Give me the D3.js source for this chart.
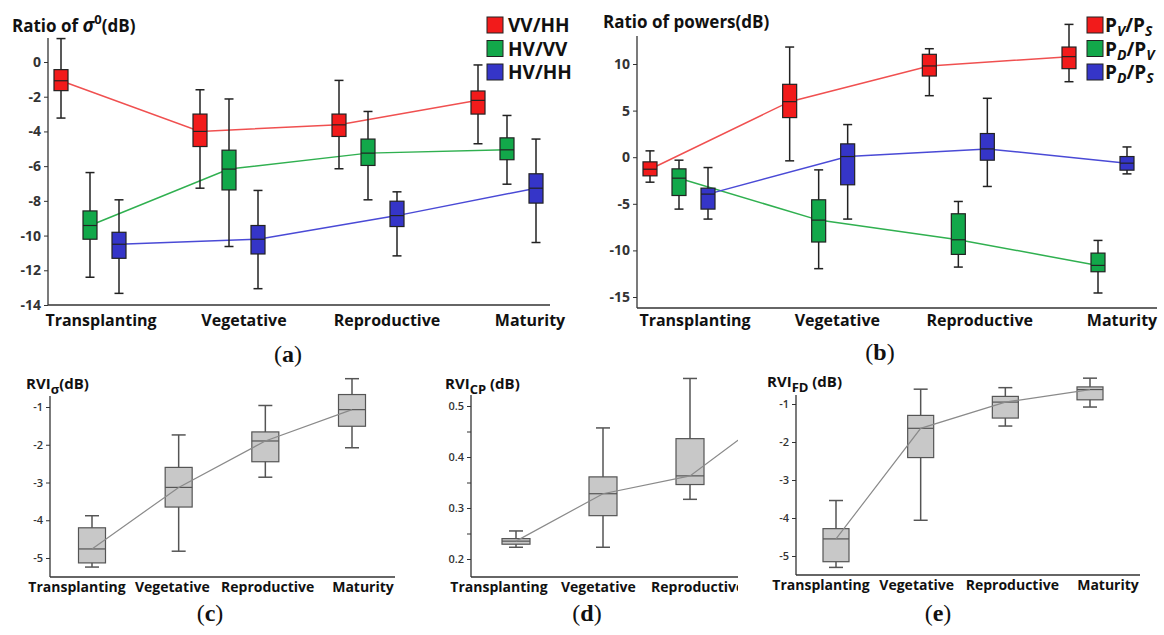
<!DOCTYPE html>
<html>
<head>
<meta charset="utf-8">
<script src="https://cdn.jsdelivr.net/npm/d3@7"></script>
<style>
  body { margin: 0; background: #fff; }
  svg { display: block; font-family: "Open Sans", sans-serif; }
</style>
</head>
<body>
<script>
// Drawing area
const w = 1164;
const h = 635;

// Growth stages on every x axis
const stages = ["Transplanting", "Vegetative", "Reproductive", "Maturity"];

// Each box: [low whisker, q1, median, q3, high whisker]
// (a) ratio of sigma0
const vvHH = [[-3.23, -1.65, -1.08, -0.44, 1.35], [-7.27, -4.87, -4.0, -3.0, -1.6], [-6.15, -4.29, -3.62, -3.0, -1.06], [-4.71, -3.0, -2.21, -1.67, -0.17]];
const hvVV = [[-12.4, -10.21, -9.42, -8.58, -6.37], [-10.63, -7.37, -6.17, -5.08, -2.13], [-7.94, -5.96, -5.25, -4.44, -2.85], [-7.04, -5.63, -5.06, -4.37, -3.08]];
const hvHH = [[-13.33, -11.31, -10.5, -9.81, -7.94], [-13.06, -11.06, -10.21, -9.42, -7.4], [-11.17, -9.48, -8.85, -8.02, -7.48], [-10.4, -8.13, -7.27, -6.44, -4.44]];
const legendA = ["VV/HH", "HV/VV", "HV/HH"];
const ticksA = [0, -2, -4, -6, -8, -10, -12, -14];

// (b) ratio of powers
const pvPs = [[-2.68, -2.0, -1.29, -0.5, 0.68], [-0.39, 4.25, 5.96, 7.82, 11.82], [6.6, 8.71, 9.79, 11.04, 11.64], [8.1, 9.5, 10.79, 11.82, 14.25]];
const pdPv = [[-5.57, -4.11, -2.25, -1.25, -0.32], [-11.96, -9.1, -6.75, -4.57, -1.36], [-11.79, -10.43, -8.86, -6.07, -4.75], [-14.57, -12.29, -11.61, -10.29, -8.93]];
const pdPs = [[-6.64, -5.57, -3.96, -3.32, -1.11], [-6.64, -2.96, 0.07, 1.43, 3.5], [-3.14, -0.32, 0.89, 2.54, 6.32], [-1.79, -1.39, -0.64, 0.07, 1.1]];
const legendB = [["P", "V", "P", "S"], ["P", "D", "P", "V"], ["P", "D", "P", "S"]];
const ticksB = [10, 5, 0, -5, -10, -15];

// (c), (d), (e) radar vegetation indices
const rviSigma = [[-5.24, -5.13, -4.76, -4.2, -3.88], [-4.82, -3.65, -3.13, -2.6, -1.74], [-2.86, -2.45, -1.9, -1.66, -0.96], [-2.08, -1.51, -1.07, -0.67, -0.25]];
const rviCP = [[0.223, 0.229, 0.235, 0.24, 0.255], [0.223, 0.285, 0.328, 0.361, 0.457], [0.317, 0.346, 0.363, 0.436, 0.554], [0.41, 0.45, 0.49, 0.53, 0.6]];
const rviFD = [[-5.3, -5.15, -4.55, -4.28, -3.54], [-4.06, -2.41, -1.64, -1.3, -0.61], [-1.58, -1.37, -0.95, -0.8, -0.57], [-1.08, -0.89, -0.62, -0.55, -0.32]];
const ticksRvi = [-1, -2, -3, -4, -5];
const ticksCP = [0.5, 0.45, 0.4, 0.35, 0.3, 0.25, 0.2];

// Colours
const red = "#f21b1b", green = "#12a84a", blue = "#3535c8";
const redLine = "#f05050", greenLine = "#30b050", blueLine = "#4a4ad6";

const svg = d3.select("body").append("svg").attr("width", w).attr("height", h);

// Draws a left axis plus the two axis lines
function drawFrame(g, y, ticks, opt) {
  const axis = d3.axisLeft(y).tickValues(ticks).tickSize(opt.tickSize)
    .tickFormat(opt.format || (d => d));
  const ag = g.append("g").attr("transform", "translate(" + opt.x0 + ",0)").call(axis);
  ag.select(".domain").remove();
  ag.selectAll("line").attr("stroke", "#333");
  ag.selectAll("text")
    .attr("fill", "#333")
    .style("font-size", opt.fontSize + "px")
    .style("font-weight", opt.weight)
    .style("font-family", "'Open Sans', sans-serif");
  g.append("line").attr("x1", opt.x0).attr("x2", opt.x0)
    .attr("y1", opt.yTop).attr("y2", opt.yBottom).attr("stroke", "#333").attr("stroke-width", 1.3);
  g.append("line").attr("x1", opt.x0).attr("x2", opt.x1)
    .attr("y1", opt.yBottom).attr("y2", opt.yBottom).attr("stroke", "#333").attr("stroke-width", 1.3);
}

// Draws a line through the medians
function drawMedianLine(g, data, x, y, offset, color, width) {
  const line = d3.line().x((d, i) => x(stages[i]) + offset).y(d => y(d[2]));
  g.append("path").datum(data).attr("d", line)
    .attr("fill", "none").attr("stroke", color).attr("stroke-width", width);
}

// Draws box plots
function drawBoxes(g, data, x, y, offset, bw, cw, fill, stroke) {
  const b = g.append("g").selectAll("g").data(data).enter().append("g");
  const cx = (d, i) => x(stages[i]) + offset;
  b.append("line").attr("x1", cx).attr("x2", cx)
    .attr("y1", d => y(d[0])).attr("y2", d => y(d[4]))
    .attr("stroke", stroke).attr("stroke-width", 1.5);
  [0, 4].forEach(k => {
    b.append("line").attr("x1", (d, i) => cx(d, i) - cw / 2).attr("x2", (d, i) => cx(d, i) + cw / 2)
      .attr("y1", d => y(d[k])).attr("y2", d => y(d[k]))
      .attr("stroke", stroke).attr("stroke-width", 1.5);
  });
  b.append("rect").attr("x", (d, i) => cx(d, i) - bw / 2).attr("width", bw)
    .attr("y", d => y(d[3])).attr("height", d => y(d[1]) - y(d[3]))
    .attr("fill", fill).attr("stroke", stroke).attr("stroke-width", 1.2);
  b.append("line").attr("x1", (d, i) => cx(d, i) - bw / 2).attr("x2", (d, i) => cx(d, i) + bw / 2)
    .attr("y1", d => y(d[2])).attr("y2", d => y(d[2]))
    .attr("stroke", stroke).attr("stroke-width", 1.2);
}

// Category labels under a panel
function drawLabels(g, labels, xl, yBase, size) {
  g.selectAll(null).data(labels).enter().append("text")
    .attr("x", d => xl(d)).attr("y", yBase)
    .attr("text-anchor", "middle")
    .style("font-size", size + "px").style("font-weight", "bold").attr("fill", "#111")
    .text(d => d);
}

// Panel letter like (a)
function drawLetter(x, y, letter) {
  const t = svg.append("text").attr("x", x).attr("y", y).attr("text-anchor", "middle")
    .style("font-family", "'Liberation Serif', serif").style("font-size", "24px").attr("fill", "#111");
  t.append("tspan").text("(");
  t.append("tspan").style("font-weight", "bold").text(letter);
  t.append("tspan").text(")");
}

// ---------- Panel (a) ----------
const ga = svg.append("g");
const xa = d3.scalePoint().domain(stages).range([90, 507]);
const ya = d3.scaleLinear().domain([-14, 0]).range([305, 62]);
drawFrame(ga, ya, ticksA, { x0: 48, x1: 550, yTop: 38, yBottom: 305, tickSize: 4, fontSize: 14, weight: "bold" });
drawMedianLine(ga, vvHH, xa, ya, -29, redLine, 1.5);
drawMedianLine(ga, hvVV, xa, ya, 0, greenLine, 1.5);
drawMedianLine(ga, hvHH, xa, ya, 29, blueLine, 1.5);
drawBoxes(ga, vvHH, xa, ya, -29, 14, 9, red, "#222");
drawBoxes(ga, hvVV, xa, ya, 0, 14, 9, green, "#222");
drawBoxes(ga, hvHH, xa, ya, 29, 14, 9, blue, "#222");
drawLabels(ga, stages, d3.scalePoint().domain(stages).range([101, 530]), 326, 16);

const ta = ga.append("text").attr("x", 12).attr("y", 32).style("font-size", "17px").style("font-weight", "bold").attr("fill", "#111");
ta.append("tspan").text("Ratio of ");
ta.append("tspan").style("font-style", "italic").style("font-size", "19px").text("σ");
ta.append("tspan").attr("dy", -8).style("font-size", "13px").text("0");
ta.append("tspan").attr("dy", 8).text("(dB)");

const legA = ga.selectAll(".legA").data(legendA).enter().append("g")
  .attr("transform", (d, i) => "translate(487," + (17 + i * 23.5) + ")");
legA.append("rect").attr("width", 16).attr("height", 16).attr("stroke", "#222")
  .attr("fill", (d, i) => [red, green, blue][i]);
legA.append("text").attr("x", 21).attr("y", 15).style("font-size", "19px").style("font-weight", "bold")
  .attr("fill", "#111").text(d => d);

// ---------- Panel (b) ----------
const gb = svg.append("g");
const xb = d3.scalePoint().domain(stages).range([679, 1098]);
const yb = d3.scaleLinear().domain([-15, 10]).range([297, 64]);
drawFrame(gb, yb, ticksB, { x0: 637, x1: 1157, yTop: 36, yBottom: 308, tickSize: 4, fontSize: 14, weight: "bold" });
drawMedianLine(gb, pvPs, xb, yb, -29, redLine, 1.5);
drawMedianLine(gb, pdPv, xb, yb, 0, greenLine, 1.5);
drawMedianLine(gb, pdPs, xb, yb, 29, blueLine, 1.5);
drawBoxes(gb, pvPs, xb, yb, -29, 14, 9, red, "#222");
drawBoxes(gb, pdPv, xb, yb, 0, 14, 9, green, "#222");
drawBoxes(gb, pdPs, xb, yb, 29, 14, 9, blue, "#222");
drawLabels(gb, stages, d3.scalePoint().domain(stages).range([695, 1122]), 326, 16);

gb.append("text").attr("x", 603).attr("y", 28).style("font-size", "17px").style("font-weight", "bold")
  .attr("fill", "#111").text("Ratio of powers(dB)");

const legB = gb.selectAll(".legB").data(legendB).enter().append("g")
  .attr("transform", (d, i) => "translate(1087," + (17 + i * 23.5) + ")");
legB.append("rect").attr("width", 16).attr("height", 16).attr("stroke", "#222")
  .attr("fill", (d, i) => [red, green, blue][i]);
const lbt = legB.append("text").attr("x", 18).attr("y", 15).style("font-size", "19px").style("font-weight", "bold").attr("fill", "#111");
lbt.append("tspan").text(d => d[0]);
lbt.append("tspan").attr("dy", 4).style("font-size", "14px").style("font-style", "italic").text(d => d[1]);
lbt.append("tspan").attr("dy", -4).text(d => "/" + d[2]);
lbt.append("tspan").attr("dy", 4).style("font-size", "14px").style("font-style", "italic").text(d => d[3]);

// ---------- Small panels (c), (d), (e) ----------
function rviTitle(g, x, y, sub, gap) {
  const t = g.append("text").attr("x", x).attr("y", y).style("font-size", "15px").style("font-weight", "bold").attr("fill", "#111");
  t.append("tspan").text("RVI");
  t.append("tspan").attr("dy", 5).style("font-size", "13px").text(sub);
  t.append("tspan").attr("dy", -5).text(gap + "(dB)");
}

// (c)
const gc = svg.append("g");
const xc = d3.scalePoint().domain(stages).range([92, 352]);
const yc = d3.scaleLinear().domain([-5, -1]).range([558, 407]);
drawFrame(gc, yc, ticksRvi, { x0: 50, x1: 395, yTop: 396, yBottom: 577, tickSize: 4, fontSize: 11, weight: 600 });
drawBoxes(gc, rviSigma, xc, yc, 0, 27, 14, "#c8c8c8", "#555");
drawMedianLine(gc, rviSigma, xc, yc, 0, "#8a8a8a", 1.2);
drawLabels(gc, stages, d3.scalePoint().domain(stages).range([77, 363]), 592, 14);
rviTitle(gc, 26, 389, "σ", "");

// (d) clipped on the right, Maturity falls outside the frame
svg.append("clipPath").attr("id", "clipD").append("rect").attr("x", 400).attr("y", 340).attr("width", 338).attr("height", 270);
const gd = svg.append("g").attr("clip-path", "url(#clipD)");
const xd = d3.scalePoint().domain(stages).range([516, 777]);
const yd = d3.scaleLinear().domain([0.2, 0.5]).range([559, 406]);
drawFrame(gd, yd, ticksCP, { x0: 471, x1: 740, yTop: 395, yBottom: 577, tickSize: 4, fontSize: 11, weight: 600,
  format: d => (Math.round(d * 100) % 10 === 0 ? d3.format(".1f")(d) : "") });
drawBoxes(gd, rviCP, xd, yd, 0, 28, 14, "#c8c8c8", "#555");
drawMedianLine(gd, rviCP, xd, yd, 0, "#8a8a8a", 1.2);
drawLabels(gd, stages.slice(0, 3), d3.scalePoint().domain(stages).range([499, 797]), 592, 14);
rviTitle(svg, 445, 389, "CP", " ");

// (e)
const ge = svg.append("g");
const xe = d3.scalePoint().domain(stages).range([836, 1090]);
const ye = d3.scaleLinear().domain([-5, -1]).range([556, 404]);
drawFrame(ge, ye, ticksRvi, { x0: 796, x1: 1140, yTop: 395, yBottom: 575, tickSize: 4, fontSize: 11, weight: 600 });
drawBoxes(ge, rviFD, xe, ye, 0, 26, 14, "#c8c8c8", "#555");
drawMedianLine(ge, rviFD, xe, ye, 0, "#8a8a8a", 1.2);
drawLabels(ge, stages, d3.scalePoint().domain(stages).range([821, 1108]), 590, 14);
rviTitle(ge, 767, 387, "FD", " ");

// Panel letters
drawLetter(288, 362, "a");
drawLetter(880, 360, "b");
drawLetter(210, 621, "c");
drawLetter(587, 621, "d");
drawLetter(938, 621, "e");
</script>
</body>
</html>
